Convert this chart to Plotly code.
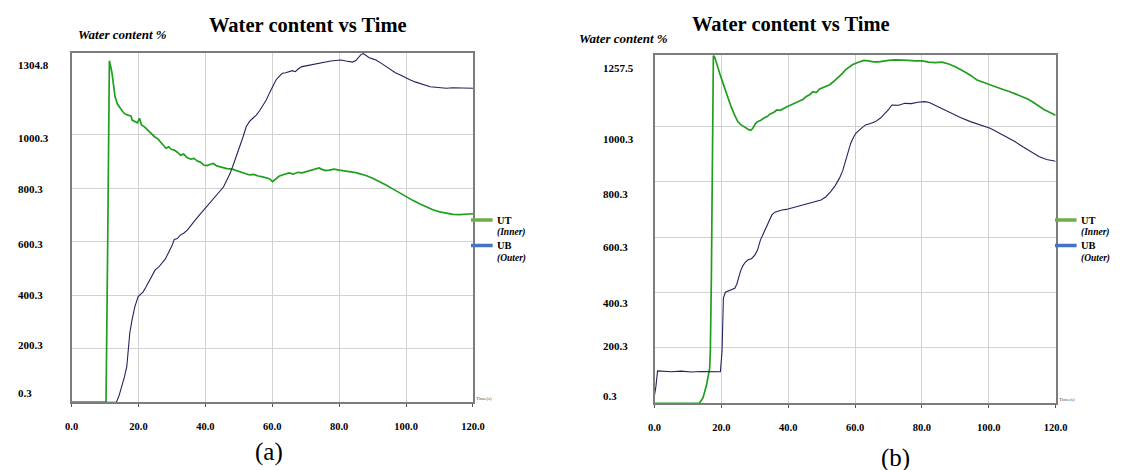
import plotly.graph_objects as go

# ---------------- data ----------------
# Panel (a)  -- UT (Inner)
a_ut_t = [0, 10.3, 10.8, 11.3, 11.7, 12.1, 12.6, 13.0, 13.7, 14.5, 15.2, 16.0, 16.7, 17.4, 17.8,
          18.1, 18.9, 19.7, 20.3, 20.9, 21.8, 22.8, 23.8, 24.8, 25.8, 26.8, 27.5, 28.2, 29.0,
          29.8, 30.7, 31.6, 32.6, 33.5, 34.5, 35.6, 36.6, 37.6, 38.5, 39.5, 40.5, 41.5, 42.4,
          43.4, 44.4, 45.4, 46.4, 47.3, 48.3, 49.3, 50.3, 51.3, 52.2, 53.2, 54.5, 55.8, 57.1,
          58.1, 59.1, 60.1, 61.0, 62.0, 63.0, 64.0, 65.0, 66.3, 67.6, 68.9, 70, 71, 72, 73, 74,
          75, 76, 77, 78.5, 80, 81.5, 83, 84.5, 86, 88, 90, 92, 94, 96, 98, 100, 102, 104, 106,
          108, 110, 112, 114, 116, 118, 120]
a_ut_y = [0, 0, 600, 1277, 1255, 1230, 1180, 1142, 1115, 1099, 1088, 1078, 1076, 1074, 1070,
          1055, 1050, 1045, 1062, 1037, 1030, 1018, 1008, 993, 985, 968, 960, 950, 955,
          946, 943, 935, 924, 928, 915, 909, 912, 902, 898, 887, 885, 890, 893,
          884, 880, 878, 874, 873, 871, 866, 862, 856, 853, 850, 852, 846, 843,
          840, 836, 825, 833, 845, 850, 855, 858, 853, 860, 858, 862, 866, 868, 872, 876,
          870, 866, 868, 872, 868, 866, 864, 860, 855, 848, 838, 826, 812, 798, 783, 768, 755, 742, 730,
          720, 712, 707, 703, 702, 704, 705]

# Panel (a)  -- UB (Outer)
a_ub_t = [0, 13.4, 14.2, 15.0, 15.8, 16.5, 17.0, 17.4, 18.1, 18.9,
          19.9, 20.6, 21.4, 22.2, 23.0, 24.0, 25.0, 26.0, 27.0, 28.0,
          29.0, 30.0, 30.7, 31.6, 32.5, 33.5, 34.6, 35.8, 37.0, 38.2,
          39.5, 40.7, 42.0, 43.2, 44.4, 45.4, 46.4, 47.4, 48.4, 49.4,
          50.3, 51.2, 52.2, 53.2, 54.2, 55.2, 56.2, 57.2, 58.2, 59.1,
          60.1, 61.1, 62.0, 63.0, 64.0, 65.0, 66.0, 66.9, 67.9, 68.9,
          70.0, 71.5, 73.0, 74.5, 76.0, 77.5, 79.0, 80.5, 82.0, 83.0,
          84.0, 85.0, 85.8, 86.5, 87.2, 88.0, 89.0, 90.0, 91.0, 92.5,
          94.0, 95.4, 96.8, 98.3, 99.8, 101.3, 102.7, 104.2, 105.7, 107.2,
          108.8, 110.4, 112.0, 114.0, 116.0, 118.0, 120]
a_ub_y = [0, 0, 25, 58, 95, 133, 190, 259, 310, 357,
          395, 405, 413, 430, 450, 475, 495, 505, 520, 535,
          560, 585, 609, 612, 625, 632, 644, 665, 682, 700,
          719, 735, 752, 770, 787, 805, 830, 856, 890, 925,
          955, 990, 1030, 1050, 1062, 1074, 1090, 1110, 1130, 1155,
          1180, 1205, 1218, 1230, 1232, 1236, 1240, 1236, 1248, 1255,
          1258, 1262, 1266, 1270, 1272, 1276, 1278, 1280, 1276, 1274,
          1272, 1278, 1290, 1300, 1304, 1296, 1288, 1284, 1280, 1268,
          1255, 1242, 1232, 1224, 1214, 1205, 1198, 1192, 1186, 1180,
          1178, 1175, 1174, 1176, 1175, 1174, 1174]

# Panel (b)  -- UT (Inner)
b_ut_t = [0, 13.4, 14.5, 15.5, 16.5, 16.7, 17.0, 17.3, 17.6, 18.0,
          18.5, 19.0, 19.5, 20.5, 21.5, 22.2, 22.9, 23.9, 24.9, 25.8,
          26.8, 27.5, 28.3, 28.9, 29.5, 30.2, 30.8, 31.8, 32.7, 33.7,
          34.6, 35.6, 36.6, 37.6, 38.6, 39.6, 40.6, 41.6, 42.5, 43.5,
          44.5, 45.4, 46.4, 47.4, 48.4, 49.4, 50.4, 51.4, 52.4, 53.4,
          54.3, 55.3, 56.3, 57.2, 58.2, 59.2, 60.2, 61.2, 62.6, 64.0,
          65.5, 67.1, 68.5, 70.0, 72.0, 74.0, 76.0, 78.0, 80.0, 82.0,
          84.0, 86.0, 88.0, 90.0, 91.5, 93.0, 94.8, 96.5, 98.5, 100.4,
          102.4, 104.3, 106.3, 108.2, 110.2, 111.8, 113.5, 115.1, 116.5, 118.0,
          119.5, 120]
b_ut_y = [0, 0, 20, 63, 127, 193, 450, 900, 1255, 1250,
          1233, 1215, 1191, 1155, 1119, 1098, 1071, 1042, 1017, 1006,
          999, 992, 987, 986, 995, 1010, 1017, 1022, 1030, 1035,
          1045, 1050, 1059, 1058, 1066, 1071, 1076, 1082, 1088, 1095,
          1098, 1108, 1114, 1125, 1122, 1135, 1140, 1143, 1150, 1160,
          1170, 1179, 1192, 1205, 1215, 1222, 1228, 1233, 1238, 1236,
          1233, 1233, 1236, 1238, 1240, 1240, 1238, 1236, 1236, 1232,
          1230, 1232, 1225, 1215, 1206, 1195, 1182, 1167, 1158, 1149,
          1141, 1133, 1125, 1116, 1107, 1098, 1085, 1071, 1061, 1052,
          1041, 1040]

# Panel (b)  -- UB (Outer)
b_ub_t = [0, 0.4, 0.9, 2, 5, 8, 11, 14, 17, 19.7,
          20.2, 20.6, 21.2, 22.0, 23.0, 24.0, 24.6, 25.2, 25.8, 26.5,
          27.2, 28.0, 29.0, 30.0, 30.8, 31.7, 32.6, 33.6, 34.3, 35.1,
          36.0, 37.0, 38.1, 39.4, 40.7, 42.0, 43.3, 44.5, 45.8, 47.1,
          48.4, 49.8, 51.2, 52.7, 54.0, 55.3, 56.3, 57.2, 58.0, 58.7,
          59.5, 60.2, 61.6, 63.1, 64.6, 66.1, 67.6, 69.0, 70.0, 71.0,
          73.0, 74.9, 76.8, 78.8, 80.8, 82.2, 83.7, 86.1, 88.6, 91.5,
          94.5, 97.5, 100.4, 102.8, 105.3, 107.8, 110.2, 112.7, 115.1, 117.3,
          119.5, 120]
b_ub_y = [30, 60, 117, 116, 114, 116, 113, 115, 114, 114,
          190, 380, 401, 405, 408, 415, 430, 455, 480, 498,
          510, 518, 522, 535, 553, 590, 615, 644, 662, 680,
          690, 694, 698, 700, 704, 710, 712, 718, 722, 726,
          730, 734, 745, 764, 785, 812, 840, 878, 905, 939,
          960, 975, 990, 1005, 1010, 1017, 1030, 1047, 1060, 1077,
          1076, 1083, 1082, 1087, 1089, 1086, 1077, 1062, 1047, 1032,
          1017, 1005, 993, 978, 962, 945, 926, 908, 890, 880,
          875, 874]

assert len(a_ut_t) == len(a_ut_y), (len(a_ut_t), len(a_ut_y))
assert len(a_ub_t) == len(a_ub_y), (len(a_ub_t), len(a_ub_y))
assert len(b_ut_t) == len(b_ut_y), (len(b_ut_t), len(b_ut_y))
assert len(b_ub_t) == len(b_ub_y), (len(b_ub_t), len(b_ub_y))

x_ticks = [0, 20, 40, 60, 80, 100, 120]
x_tick_labels = ["0.0", "20.0", "40.0", "60.0", "80.0", "100.0", "120.0"]
a_y_ticks = [0.3, 200.3, 400.3, 600.3, 800.3, 1000.3, 1304.8]
b_y_ticks = [0.3, 200.3, 400.3, 600.3, 800.3, 1000.3, 1257.5]
grid_vals = [200.3, 400.3, 600.3, 800.3, 1000.3]

title_text = "Water content vs Time"
ytitle_text = "Water content %"
series_names = ["UT", "UB"]
series_sub = ["(Inner)", "(Outer)"]
panel_labels = ["(a)", "(b)"]

# ---------------- styling ----------------
W, H = 1122, 470
SERIF = "Liberation Serif, Times New Roman, serif"
GREEN = "#1f9e1f"
NAVY = "#23235e"
LEG_GREEN = "#70ad47"
LEG_BLUE = "#4472c4"
GRID = "#d2d2d2"
AXLINE = "#7c7c7c"


def px(x):
    return x / W


def py(y):
    return 1 - y / H


fig = go.Figure()
fig.add_trace(go.Scatter(x=a_ut_t, y=a_ut_y, mode="lines", line=dict(color=GREEN, width=1.7),
                         xaxis="x", yaxis="y", name="UT"))
fig.add_trace(go.Scatter(x=a_ub_t, y=a_ub_y, mode="lines", line=dict(color=NAVY, width=1.1),
                         xaxis="x", yaxis="y", name="UB"))
fig.add_trace(go.Scatter(x=b_ut_t, y=b_ut_y, mode="lines", line=dict(color=GREEN, width=1.7),
                         xaxis="x2", yaxis="y2", name="UT"))
fig.add_trace(go.Scatter(x=b_ub_t, y=b_ub_y, mode="lines", line=dict(color=NAVY, width=1.1),
                         xaxis="x2", yaxis="y2", name="UB"))

xcommon = dict(range=[0, 120], tickvals=x_ticks,
               ticktext=["<b>%s</b>" % t for t in x_tick_labels],
               tickfont=dict(family=SERIF, size=10.5, color="black"),
               showgrid=True, gridcolor=GRID, gridwidth=1, zeroline=False,
               showline=True, mirror=True, linecolor=AXLINE, linewidth=1.5,
               ticks="outside", ticklen=3, tickcolor="#555", ticklabelstandoff=10)
ycommon = dict(tickvals=grid_vals, showticklabels=False, showgrid=True, gridcolor=GRID,
               gridwidth=1, zeroline=False, showline=True, mirror=True, linecolor=AXLINE,
               linewidth=1.5, ticks="")

panels = [
    dict(xd=[65.7, 474], yd=[402.3, 53], ymax=1306, ticks=a_y_ticks,
         shifts=[9, 4, 0, -2, -1, -3, -12], lab_x=9,
         title_x=306, title_y=25, yt_x=70, yt_y=34, leg_x=472, pl=(267, 452)),
    dict(xd=[658.7, 1066.7], yd=[403.3, 55], ymax=1257.5, ticks=b_y_ticks,
         shifts=[7, 2, -11, -10, -12, -13, -13], lab_x=604,
         title_x=798, title_y=24, yt_x=580, yt_y=39, leg_x=1066, pl=(904, 458)),
]

annotations = []
shapes = []
for i, p in enumerate(panels):
    sfx = "" if i == 0 else "2"
    fig.layout["xaxis" + sfx] = dict(xcommon, domain=[px(p["xd"][0]), px(p["xd"][1])],
                                     anchor="y" + sfx)
    fig.layout["yaxis" + sfx] = dict(ycommon, domain=[py(p["yd"][0]), py(p["yd"][1])],
                                     range=[0, p["ymax"]], anchor="x" + sfx)
    # y tick labels (left aligned, as in the original)
    for v, s in zip(p["ticks"], p["shifts"]):
        annotations.append(dict(xref="paper", yref="y" + sfx, x=px(p["lab_x"]), y=v,
                                xanchor="left", yanchor="middle", yshift=s,
                                text="<b>%s</b>" % v, showarrow=False,
                                font=dict(family=SERIF, size=11, color="black")))
    # title
    annotations.append(dict(xref="paper", yref="paper", x=px(p["title_x"]), y=py(p["title_y"]),
                            xanchor="center", yanchor="middle", text="<b>%s</b>" % title_text,
                            showarrow=False, font=dict(family=SERIF, size=20.5, color="black")))
    # y-axis title
    annotations.append(dict(xref="paper", yref="paper", x=px(p["yt_x"]), y=py(p["yt_y"]),
                            xanchor="left", yanchor="middle", text="<b><i>%s</i></b>" % ytitle_text,
                            showarrow=False, font=dict(family=SERIF, size=13, color="black")))
    # tiny axis unit label
    annotations.append(dict(xref="paper", yref="paper", x=px(p["xd"][1] + 1), y=py(p["yd"][0] + 1),
                            xanchor="left", yanchor="bottom", text="Time(s)",
                            showarrow=False, font=dict(family=SERIF, size=5, color="#555")))
    # legend
    for k, (nm, sub, col) in enumerate(zip(series_names, series_sub, [LEG_GREEN, LEG_BLUE])):
        yy = 220 + k * 25.5
        shapes.append(dict(type="line", xref="paper", yref="paper",
                           x0=px(p["leg_x"]), x1=px(p["leg_x"] + 22), y0=py(yy), y1=py(yy),
                           line=dict(color=col, width=3.5)))
        annotations.append(dict(xref="paper", yref="paper", x=px(p["leg_x"] + 24), y=py(yy),
                                xanchor="left", yanchor="middle", text="<b>%s</b>" % nm,
                                showarrow=False, font=dict(family=SERIF, size=10.5, color="black")))
        annotations.append(dict(xref="paper", yref="paper", x=px(p["leg_x"] + 24), y=py(yy + 12.5),
                                xanchor="left", yanchor="middle", text="<b><i>%s</i></b>" % sub,
                                showarrow=False, font=dict(family=SERIF, size=9.5, color="black")))
    # panel label
    annotations.append(dict(xref="paper", yref="paper", x=px(p["pl"][0]), y=py(p["pl"][1]),
                            xanchor="center", yanchor="middle", text=panel_labels[i],
                            showarrow=False, font=dict(family=SERIF, size=25, color="black")))

fig.update_layout(width=W, height=H, margin=dict(l=0, r=0, t=0, b=0),
                  paper_bgcolor="white", plot_bgcolor="white", showlegend=False,
                  annotations=annotations, shapes=shapes)

fig.write_html("out.html", config={"displayModeBar": False},
               post_script="document.body.style.margin='0px';document.body.style.overflow='hidden';")
